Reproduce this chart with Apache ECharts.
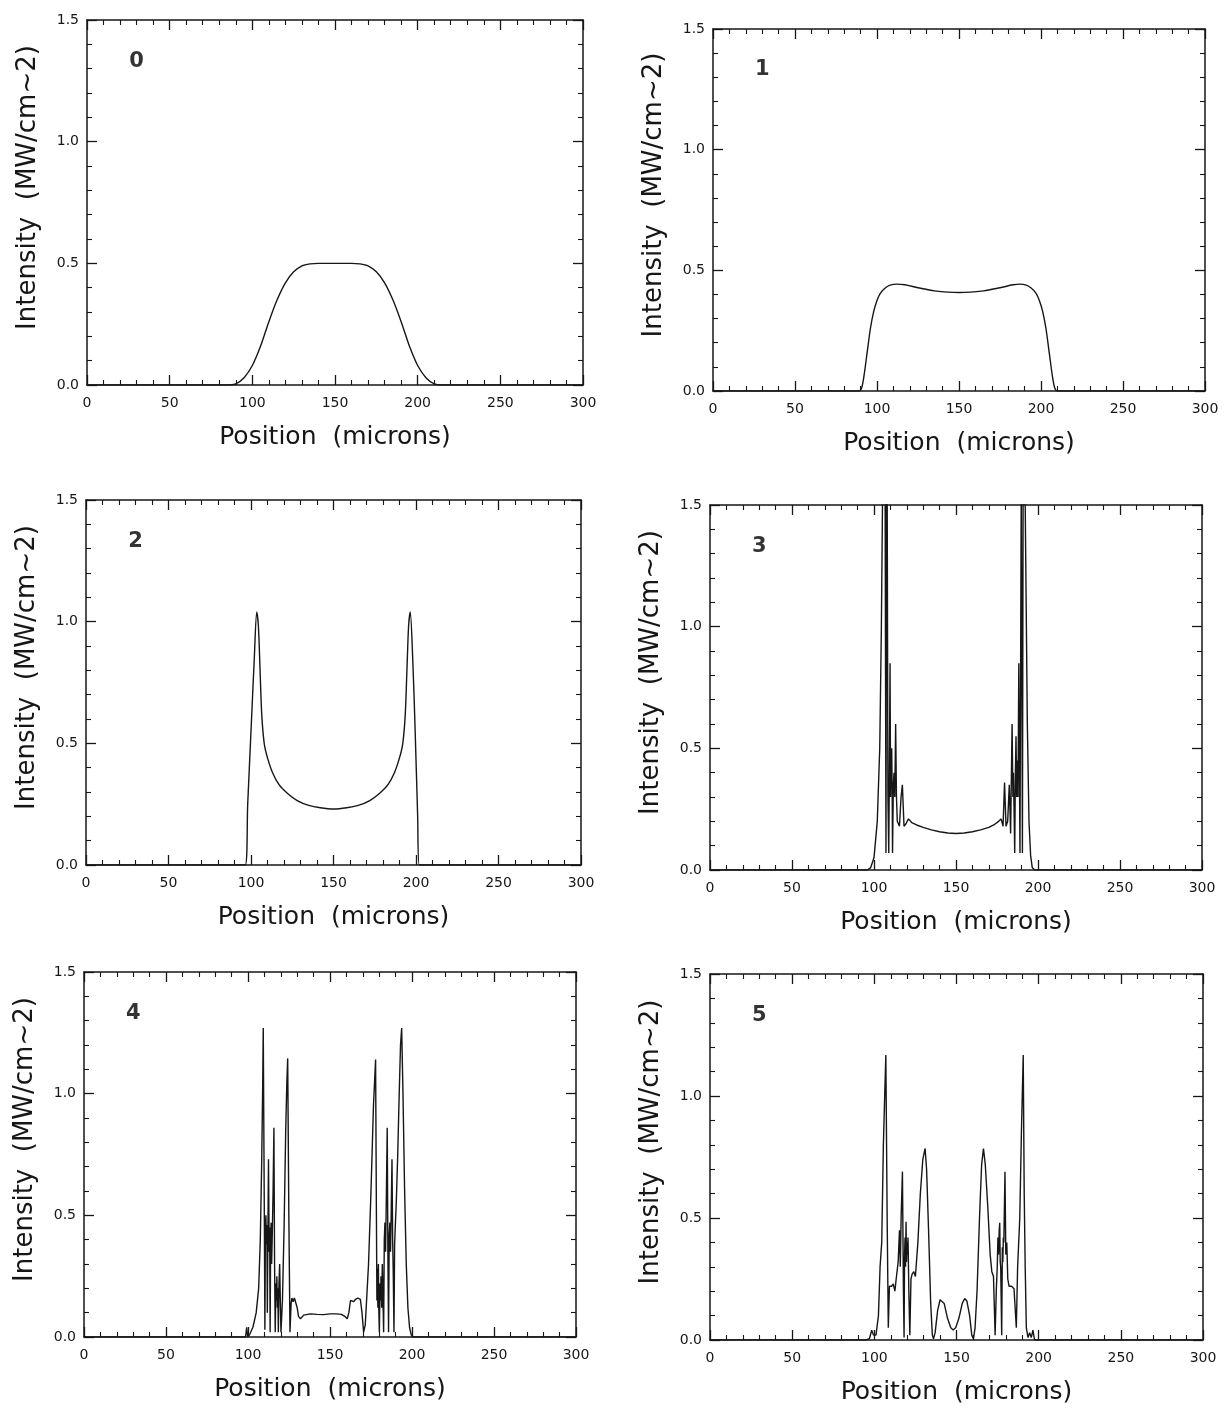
<!DOCTYPE html>
<html>
<head>
<meta charset="utf-8">
<script src="https://cdn.jsdelivr.net/npm/echarts@6/dist/echarts.min.js"></script>
<style>
html,body{margin:0;padding:0;background:#fff;}
#chart{width:1226px;height:1410px;}
</style>
</head>
<body>
<div id="chart"></div>
<script>
// ---------- DATA ----------
const panelNames = ['0', '1', '2', '3', '4', '5'];
const xTickLabels = [0, 50, 100, 150, 200, 250, 300];
const yTickLabels = ['0.0', '0.5', '1.0', '1.5'];
const xAxisTitle = 'Position  (microns)';
const yAxisTitle = 'Intensity  (MW/cm~2)';

// each panel: [position (microns), intensity (MW/cm^2)]
const panel0 = [[0,0],[85,0],[90,0.005],[95,0.03],[100,0.08],[105,0.16],[110,0.26],[115,0.35],[120,0.42],
  [125,0.465],[130,0.49],[135,0.498],[140,0.5],[150,0.5],[160,0.5],[165,0.498],[170,0.49],[175,0.465],
  [180,0.42],[185,0.35],[190,0.26],[195,0.16],[200,0.08],[205,0.03],[210,0.005],[215,0],[300,0]];

const panel1 = [[0,0],[89,0],[90.5,0.01],[92,0.06],[94,0.16],[96,0.26],[98,0.33],[100,0.375],[102,0.405],
  [105,0.427],[108,0.439],[112,0.443],[117,0.44],[125,0.428],[135,0.415],[150,0.408],[165,0.415],
  [175,0.428],[183,0.44],[187,0.443],[191,0.439],[194,0.427],[197,0.405],[199,0.375],[201,0.33],
  [203,0.26],[205,0.16],[207,0.06],[208.5,0.01],[210,0],[300,0]];

const panel2 = [[0,0],[96.5,0],[98,0.25],[100,0.55],[102,0.85],[103.5,1.04],[104.5,0.98],[105.5,0.8],
  [106.5,0.62],[108,0.5],[110,0.44],[113,0.38],[117,0.33],[122,0.295],[128,0.265],[135,0.245],
  [142,0.235],[150,0.23],[158,0.235],[165,0.245],[172,0.265],[178,0.295],[183,0.33],[187,0.38],
  [190,0.44],[192,0.5],[193.5,0.62],[194.5,0.8],[195.5,0.98],[196.5,1.04],[198,0.85],[199.5,0.55],
  [201,0.2],[202,0],[300,0]];

const panel3 = [[0,0],[96,0],[98,0.01],[100,0.05],[102,0.2],[103.5,0.5],[104.5,1.0],[105.3,1.6],
  [106,2.5],[106.8,1.5],[107.3,0.07],[107.8,2.2],[108.5,0.3],[109,0.07],[109.4,0.45],[109.8,0.85],
  [110.1,0.3],[110.4,0.45],[110.8,0.5],[111.1,0.3],[111.3,0.07],[111.8,0.35],[112.2,0.4],[112.7,0.3],
  [113.2,0.6],[113.7,0.3],[114.2,0.2],[115.5,0.18],[116.5,0.3],[117.3,0.35],
  [118.3,0.18],[119.5,0.19],[121,0.21],[123,0.195],[126,0.185],[130,0.175],[135,0.165],[140,0.157],
  [145,0.152],[150,0.15],[155,0.152],[160,0.157],[165,0.165],[170,0.175],[173,0.185],[176,0.2],
  [177.5,0.21],[178.7,0.18],[179.6,0.36],[180.5,0.18],[181.5,0.2],[182.5,0.35],[183.3,0.15],
  [184.2,0.6],[184.7,0.3],[185,0.4],[185.4,0.25],[185.8,0.07],[186.2,0.4],[186.6,0.55],[187,0.3],
  [187.3,0.45],[187.8,0.3],[188.3,0.85],[189,0.07],[189.8,1.6],
  [190.5,0.07],[191.2,2.5],[192.2,1.5],[193.5,0.6],[194.5,0.2],[195.5,0.06],[196.5,0.01],[198,0],[300,0]];

const panel4 = [[0,0],[98.5,0],[99.2,0.04],[99.8,0],[101,0.01],[103,0.04],[105,0.1],[106.5,0.2],
  [107.5,0.4],[108.3,0.7],[108.9,1.0],[109.3,1.27],[109.7,0.8],[110,0.45],[110.3,0.03],[110.6,0.42],
  [110.9,0.5],[111.2,0.38],[111.5,0.46],[111.8,0.1],[112.1,0.4],[112.5,0.73],[112.9,0.35],[113.2,0.45],
  [113.5,0.02],[113.8,0.4],[114.1,0.47],[114.4,0.3],[114.8,0.42],[115.3,0.6],[115.8,0.86],[116.2,0.3],
  [116.6,0.02],[117,0.22],[117.3,0.15],[117.6,0.25],[117.9,0.12],[118.2,0.2],[118.5,0.02],[118.9,0.22],
  [119.3,0.3],[119.7,0.15],[120.1,0.02],[121,0.15],[122,0.45],[123,0.85],[123.7,1.05],[124.2,1.145],
  [124.9,0.5],[125.6,0.02],
  [126.3,0.14],[126.8,0.16],[127.5,0.145],[128.3,0.16],[129.2,0.16],[130,0.12],[130.8,0.085],
  [132,0.075],[134,0.09],[138,0.095],[142,0.093],[146,0.092],[150,0.095],[154,0.095],[157,0.093],
  [159,0.085],[160.5,0.075],[161.5,0.1],[162.5,0.15],[163.3,0.155],[164.5,0.145],[165.5,0.155],
  [167,0.16],[168.5,0.155],[169.5,0.1],[170.5,0.02],[171.5,0.05],[173.5,0.3],[175,0.6],[176.5,0.95],
  [177.8,1.14],[178.3,0.5],[178.6,0.15],[178.9,0.28],[179.2,0.12],[179.5,0.3],[179.8,0.1],[180.1,0.02],
  [180.5,0.22],[180.8,0.15],[181.1,0.25],[181.5,0.12],[181.9,0.3],[182.3,0.15],[182.7,0.02],[183.1,0.4],
  [183.5,0.47],[183.9,0.35],[184.4,0.6],[184.9,0.86],[185.3,0.35],[185.7,0.02],[186.1,0.42],[186.5,0.47],
  [186.9,0.35],[187.3,0.5],[187.8,0.73],[188.2,0.4],[188.6,0.25],[189,0.02],[189.4,0.38],[189.9,0.47],
  [190.4,0.55],[191.3,0.75],[192.2,1.0],[193,1.2],[193.7,1.27],[194.5,1.0],[195.5,0.6],[196.5,0.3],
  [197.5,0.12],[198.5,0.04],[199.5,0.01],[200.5,0],[300,0]];

const panel5 = [[0,0],[95,0],[97,0.005],[98.4,0.04],[99.5,0.02],[101,0.02],[102.5,0.1],[103.5,0.3],
  [104.5,0.4],[105.5,0.8],[106.3,1.0],[107,1.168],[107.8,0.5],[108.5,0.05],[109.2,0.22],[110.5,0.22],
  [111.5,0.23],[112.5,0.2],[113.3,0.25],[114.5,0.32],[115.3,0.45],[115.8,0.3],[116.3,0.5],[117.1,0.69],
  [117.7,0.2],[118.1,0.01],[118.4,0.35],[118.7,0.42],[119,0.3],[119.3,0.485],[119.6,0.32],[119.9,0.4],
  [120.2,0.35],[120.5,0.42],[121,0.2],[121.6,0.02],
  [122.3,0.25],[123,0.27],[124,0.28],[125,0.26],[126.5,0.4],[128,0.6],[129.5,0.74],[130.9,0.785],
  [131.8,0.7],[133,0.45],[134.3,0.15],[135.3,0.02],[136,0.005],[137,0.03],[138.5,0.12],[140,0.165],
  [141,0.171],[142.5,0.15],[144.5,0.09],[146.5,0.05],[148,0.041],[149.5,0.05],[151.5,0.09],[153.5,0.15],
  [155,0.17],[156.3,0.16],[158,0.1],[159.3,0.02],[160.3,0.005],[161.3,0.05],[162.5,0.2],[164,0.5],
  [165.3,0.72],[166.4,0.785],[167.5,0.72],[169,0.55],[170.5,0.35],[171.5,0.28],[172.5,0.26],
  [173.5,0.02],[174.2,0.2],[174.8,0.3],[175.2,0.42],[175.6,0.35],[176,0.45],[176.3,0.48],[176.6,0.32],
  [176.9,0.3],[177.5,0.02],[177.9,0.38],[178.2,0.32],[178.5,0.42],[178.8,0.4],
  [179.5,0.69],[180,0.35],[180.6,0.4],[181.2,0.25],[182,0.22],[183.5,0.22],[185,0.21],
  [186.4,0.05],[187.2,0.3],[188.5,0.5],[189.5,0.85],[190.6,1.168],[191.2,0.6],[191.8,0.3],[192.5,0.05],
  [193.5,0.01],[194.5,0.03],[195.5,0.01],[196.5,0.04],[197.5,0],[300,0]];

const panelData = [panel0, panel1, panel2, panel3, panel4, panel5];
const panelLabelPos = [30, 1.33]; // where the panel number sits, in data units

// ---------- LAYOUT / STYLE ----------
const gridBoxes = [
  {left: 87,  top: 20,  width: 496, height: 365},
  {left: 713, top: 29,  width: 492, height: 362},
  {left: 86,  top: 500, width: 495, height: 365},
  {left: 710, top: 505, width: 492, height: 365},
  {left: 84,  top: 972, width: 492, height: 365},
  {left: 710, top: 974, width: 493, height: 366}
];
const ink = '#161616';
const font = 'DejaVu Sans';

const grids = [], xAxes = [], yAxes = [], series = [];
gridBoxes.forEach((g, i) => {
  grids.push(Object.assign({containLabel: false}, g));
  const xCommon = {
    gridIndex: i, type: 'value', min: xTickLabels[0], max: xTickLabels[xTickLabels.length - 1],
    interval: xTickLabels[1] - xTickLabels[0],
    axisLine: {show: true, onZero: false, lineStyle: {color: ink, width: 1.5}},
    axisTick: {show: true, inside: true, length: 10, lineStyle: {color: ink, width: 1.3}},
    minorTick: {show: true, splitNumber: 5, length: 5, lineStyle: {color: ink, width: 1.1}},
    splitLine: {show: false}, minorSplitLine: {show: false}
  };
  xAxes.push(Object.assign({}, xCommon, {
    position: 'bottom',
    axisLabel: {show: true, color: ink, fontSize: 14, fontFamily: font, margin: 11},
    name: xAxisTitle, nameLocation: 'middle', nameGap: 40,
    nameTextStyle: {color: ink, fontSize: 25, fontFamily: font}
  }));
  xAxes.push(Object.assign({}, xCommon, {position: 'top', axisLabel: {show: false}}));

  const yCommon = {
    gridIndex: i, type: 'value', min: 0, max: 1.5, interval: 0.5,
    axisLine: {show: true, onZero: false, lineStyle: {color: ink, width: 1.5}},
    axisTick: {show: true, inside: true, length: 10, lineStyle: {color: ink, width: 1.3}},
    minorTick: {show: true, splitNumber: 5, length: 5, lineStyle: {color: ink, width: 1.1}},
    splitLine: {show: false}, minorSplitLine: {show: false}
  };
  yAxes.push(Object.assign({}, yCommon, {
    position: 'left',
    axisLabel: {show: true, color: ink, fontSize: 14, fontFamily: font, margin: 8,
      formatter: v => yTickLabels[Math.round(v / 0.5)]},
    name: yAxisTitle, nameLocation: 'middle', nameGap: 46, nameRotate: 90,
    nameTextStyle: {color: ink, fontSize: 26, fontFamily: font, padding: [0, 0, 0, 30]}
  }));
  yAxes.push(Object.assign({}, yCommon, {position: 'right', axisLabel: {show: false}}));

  series.push({
    type: 'line', xAxisIndex: 2 * i, yAxisIndex: 2 * i,
    data: panelData[i], showSymbol: false, symbol: 'none', clip: true,
    smooth: i < 3 ? 0.3 : false,
    lineStyle: {color: ink, width: 1.4}, silent: true, animation: false
  });
  series.push({
    type: 'scatter', xAxisIndex: 2 * i, yAxisIndex: 2 * i,
    data: [panelLabelPos], symbolSize: 0, silent: true, animation: false,
    label: {show: true, position: 'inside', formatter: panelNames[i], color: '#000',
      fontSize: 21, fontWeight: 'bold', fontFamily: font, textBorderWidth: 0}
  });
});

const chart = echarts.init(document.getElementById('chart'), null, {renderer: 'canvas'});
chart.setOption({
  backgroundColor: '#ffffff',
  animation: false,
  grid: grids, xAxis: xAxes, yAxis: yAxes, series: series
});
</script>
</body>
</html>
